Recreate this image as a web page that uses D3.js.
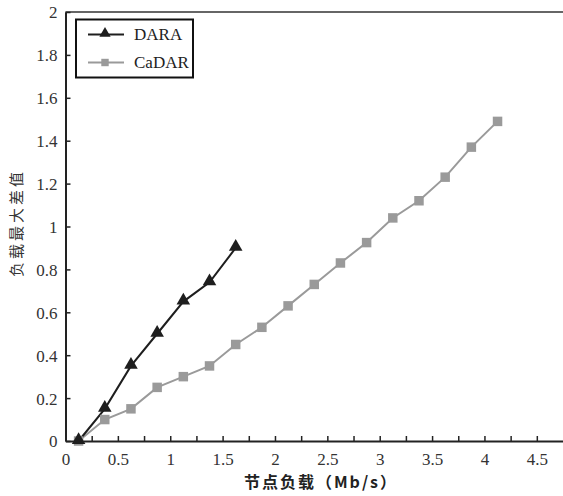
<!DOCTYPE html>
<html><head><meta charset="utf-8">
<script src="https://cdn.jsdelivr.net/npm/d3@7"></script>
<style>body{margin:0;background:#fff}svg{display:block}</style>
</head><body>
<svg id="c" width="563" height="496"></svg>
<script>
const daraX = [0.125, 0.375, 0.625, 0.875, 1.125, 1.375, 1.625];
const daraY = [0, 0.15, 0.35, 0.5, 0.65, 0.74, 0.9];
const cadarX = [0.125, 0.375, 0.625, 0.875, 1.125, 1.375, 1.625, 1.875, 2.125, 2.375, 2.625, 2.875, 3.125, 3.375, 3.625, 3.875, 4.125];
const cadarY = [0, 0.1, 0.15, 0.25, 0.3, 0.35, 0.45, 0.53, 0.63, 0.73, 0.83, 0.925, 1.04, 1.12, 1.23, 1.37, 1.49];
const xTicks = [0, 0.25, 0.5, 0.75, 1, 1.25, 1.5, 1.75, 2, 2.25, 2.5, 2.75, 3, 3.25, 3.5, 3.75, 4, 4.25, 4.5];
const yTicks = [0, 0.2, 0.4, 0.6, 0.8, 1, 1.2, 1.4, 1.6, 1.8, 2];
const seriesNames = ["DARA", "CaDAR"];
const xTitle = "节点负载（Mb/s）";
const yTitle = "负载最大差值";

const svg = d3.select("#c");
const L = 65.5, R = 563, T = 12, B = 441;
const x = d3.scaleLinear().domain([0, 4.75]).range([L, R]);
const y = d3.scaleLinear().domain([0, 2]).range([B, T]);
const serif = "'Liberation Serif','Times New Roman',serif";

svg.append("line").attr("x1", L).attr("x2", R).attr("y1", T).attr("y2", T)
  .attr("stroke", "#333").attr("stroke-width", 1.5);

const fmtX = d => (Math.abs(d * 2 - Math.round(d * 2)) < 1e-9) ? d3.format("~g")(d) : "";
const gx = svg.append("g").attr("transform", `translate(0,${B})`)
  .call(d3.axisBottom(x).tickValues(xTicks).tickFormat(fmtX).tickSizeInner(-5).tickSizeOuter(0).tickPadding(12));
const gy = svg.append("g").attr("transform", `translate(${L},0)`)
  .call(d3.axisLeft(y).tickValues(yTicks).tickFormat(d3.format("~g")).tickSizeInner(-5).tickSizeOuter(0).tickPadding(8));
[gx, gy].forEach(g => {
  g.select(".domain").attr("stroke", "#222").attr("stroke-width", 2);
  g.selectAll(".tick line").attr("stroke", "#222").attr("stroke-width", 1.5);
  g.selectAll("text").attr("font-family", serif).attr("font-size", 17).attr("fill", "#333");
});
gy.selectAll("text").attr("dy", "0.35em");

const line = d3.line().x(d => x(d[0])).y(d => y(d[1]));
const dara = daraX.map((v, i) => [v, daraY[i]]);
const cadar = cadarX.map((v, i) => [v, cadarY[i]]);
const grey = "#9a9a9a", dark = "#1e1e1e";

svg.append("path").datum(cadar).attr("d", line).attr("fill", "none").attr("stroke", grey).attr("stroke-width", 2);
svg.append("path").datum(dara).attr("d", line).attr("fill", "none").attr("stroke", dark).attr("stroke-width", 2);

const sq = d3.symbol().type(d3.symbolSquare).size(90);
const tri = d3.symbol().type(d3.symbolTriangle).size(80);
svg.selectAll(".sq").data(cadar).join("path")
  .attr("transform", d => `translate(${x(d[0])},${y(d[1])})`).attr("d", sq).attr("fill", grey);
svg.selectAll(".tr").data(dara).join("path")
  .attr("transform", d => `translate(${x(d[0])},${y(d[1]) - 1})`).attr("d", tri).attr("fill", dark);

const lg = svg.append("g");
lg.append("rect").attr("x", 76).attr("y", 19.5).attr("width", 117).attr("height", 58)
  .attr("fill", "#fff").attr("stroke", "#111").attr("stroke-width", 2);
const entries = [{n: seriesNames[0], c: dark, t: "tri", y: 34.5}, {n: seriesNames[1], c: grey, t: "sq", y: 62.5}];
entries.forEach(e => {
  lg.append("line").attr("x1", 88).attr("x2", 124).attr("y1", e.y).attr("y2", e.y).attr("stroke", e.c).attr("stroke-width", 2);
  lg.append("path").attr("transform", `translate(105,${e.y - (e.t === "tri" ? 1 : 0)})`).attr("d", d3.symbol().type(e.t === "tri" ? d3.symbolTriangle : d3.symbolSquare).size(55)).attr("fill", e.c);
  lg.append("text").attr("x", 134).attr("y", e.y).attr("dy", "0.35em").attr("font-family", serif).attr("font-size", 17).attr("fill", "#222").text(e.n);
});

svg.append("text").attr("x", 321).attr("y", 488).attr("text-anchor", "middle")
  .attr("font-family", "'Noto Sans CJK SC',sans-serif").attr("font-weight", "bold").attr("font-size", 16).attr("letter-spacing", 2).attr("fill", "#222").text(xTitle);
svg.append("text").attr("transform", "translate(22,223) rotate(-90)").attr("text-anchor", "middle")
  .attr("font-family", "'Noto Sans CJK SC',sans-serif").attr("font-size", 15).attr("fill", "#333").attr("letter-spacing", 3).text(yTitle);
</script>
</body></html>
